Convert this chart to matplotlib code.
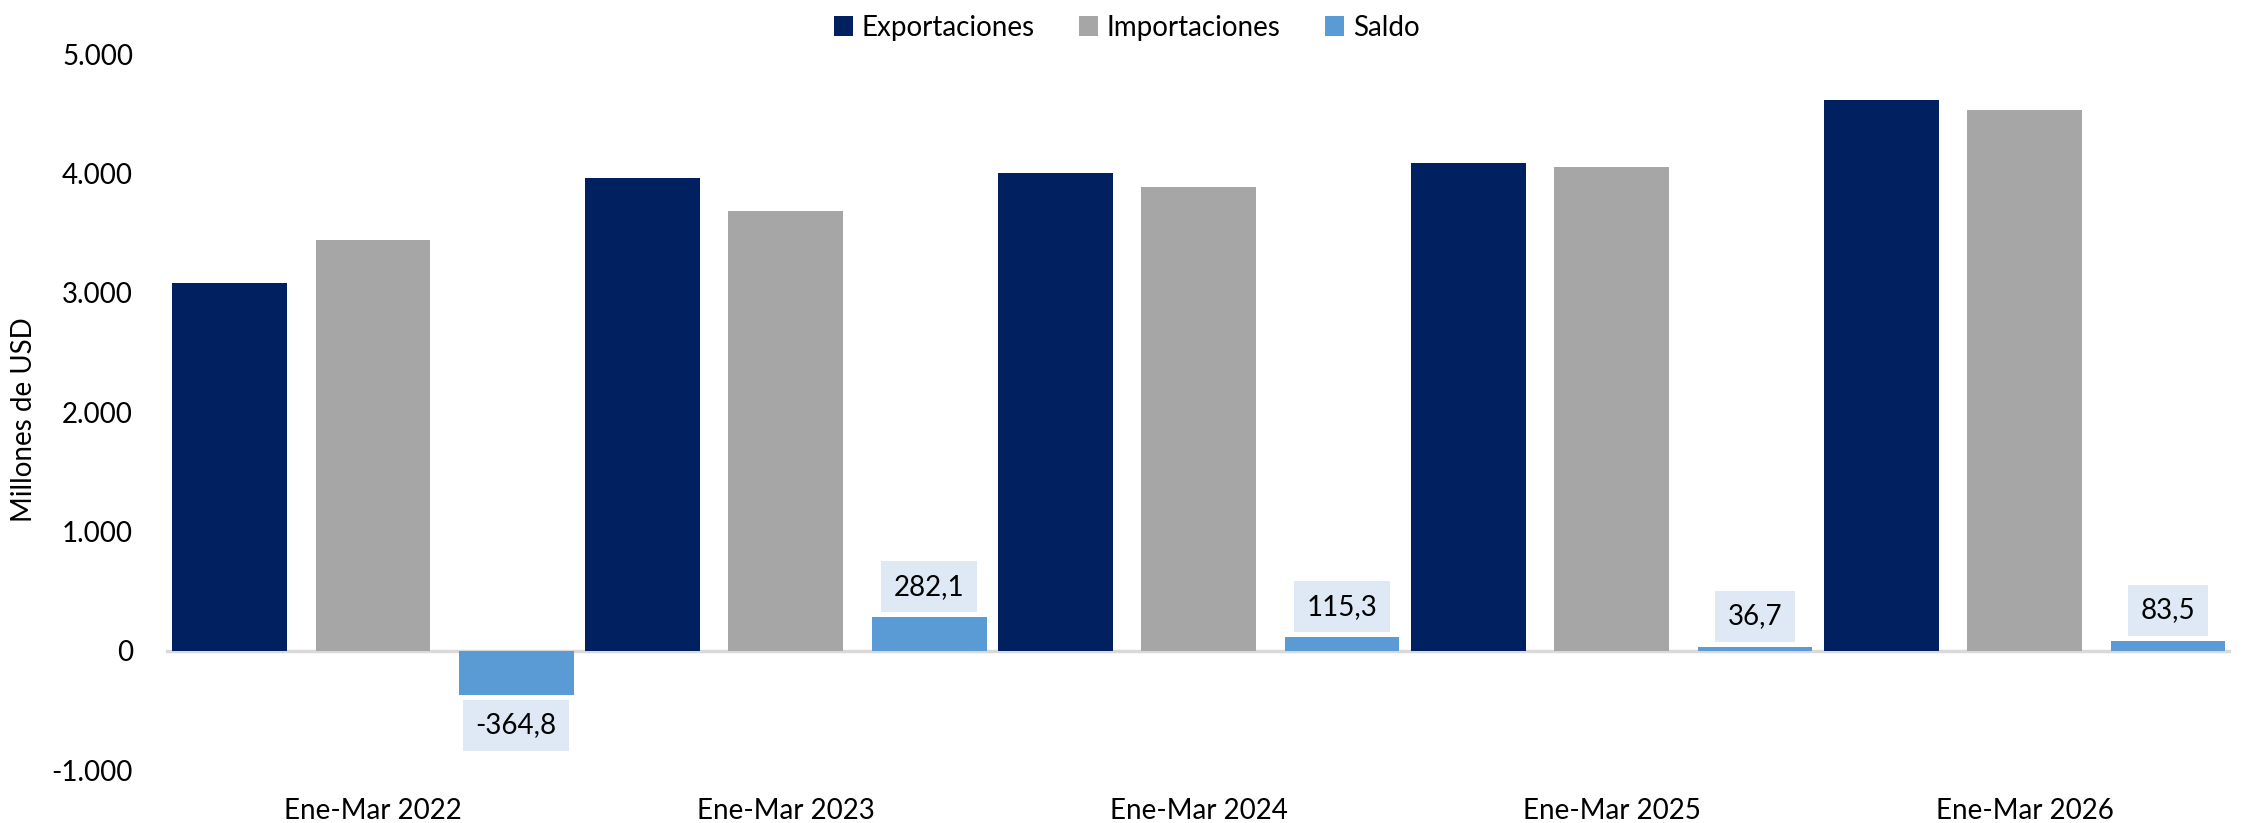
import numpy as np
import matplotlib.pyplot as plt
from matplotlib.ticker import FuncFormatter

# Data (millones de USD)
periods = ["Ene-Mar 2022", "Ene-Mar 2023", "Ene-Mar 2024", "Ene-Mar 2025", "Ene-Mar 2026"]
exportaciones = [3080.0, 3965.0, 4005.0, 4090.0, 4615.0]
importaciones = [3444.8, 3682.9, 3889.7, 4053.3, 4531.5]
saldo = [-364.8, 282.1, 115.3, 36.7, 83.5]

c_exp = "#002060"
c_imp = "#A6A6A6"
c_sal = "#5B9BD5"

plt.rcParams['font.family'] = ['Lato', 'DejaVu Sans']

fig = plt.figure(figsize=(22.49, 8.23), dpi=100)
ax = fig.add_axes([0.074, 0.064, 0.918, 0.870])

x = np.arange(len(periods))
w = 80 / 288
off = 100 / 288

ax.bar(x - off, exportaciones, w, color=c_exp, label="Exportaciones")
ax.bar(x, importaciones, w, color=c_imp, label="Importaciones")
ax.bar(x + off, saldo, w, color=c_sal, label="Saldo")

# data labels for the balance
for xi, v in zip(x + off, saldo):
    txt = ("%.1f" % v).replace(".", ",")
    dy = 22 if v >= 0 else -22
    ax.annotate(txt, (xi, v), xytext=(0, dy), textcoords="offset points",
                ha="center", va="center", fontsize=20,
                bbox=dict(boxstyle="square,pad=0.45", fc="#DEE9F5", ec="none"))

ax.set_xlim(-0.5, len(periods) - 0.5)
ax.set_ylim(-1000, 5000)
ax.set_yticks(np.arange(-1000, 5001, 1000))
ax.yaxis.set_major_formatter(FuncFormatter(lambda v, p: "{:,.0f}".format(v).replace(",", ".")))
ax.set_xticks(x)
ax.set_xticklabels(periods)
ax.tick_params(axis="both", length=0, labelsize=20)
ax.tick_params(axis="x", pad=20)
ax.tick_params(axis="y", pad=24)

for s in ax.spines.values():
    s.set_visible(False)
ax.axhline(0, color="#D9D9D9", lw=2.5, zorder=0)

fig.text(24 / 2249, 0.49, "Millones de USD", rotation=90, ha="center", va="center",
         fontsize=20)

ax.legend(loc="upper center", bbox_to_anchor=(0.465, 1.09), ncol=3, frameon=False,
          fontsize=20, handlelength=0.7, handleheight=0.7, handletextpad=0.3,
          columnspacing=1.6)

fig.savefig("out.png", dpi=100)
